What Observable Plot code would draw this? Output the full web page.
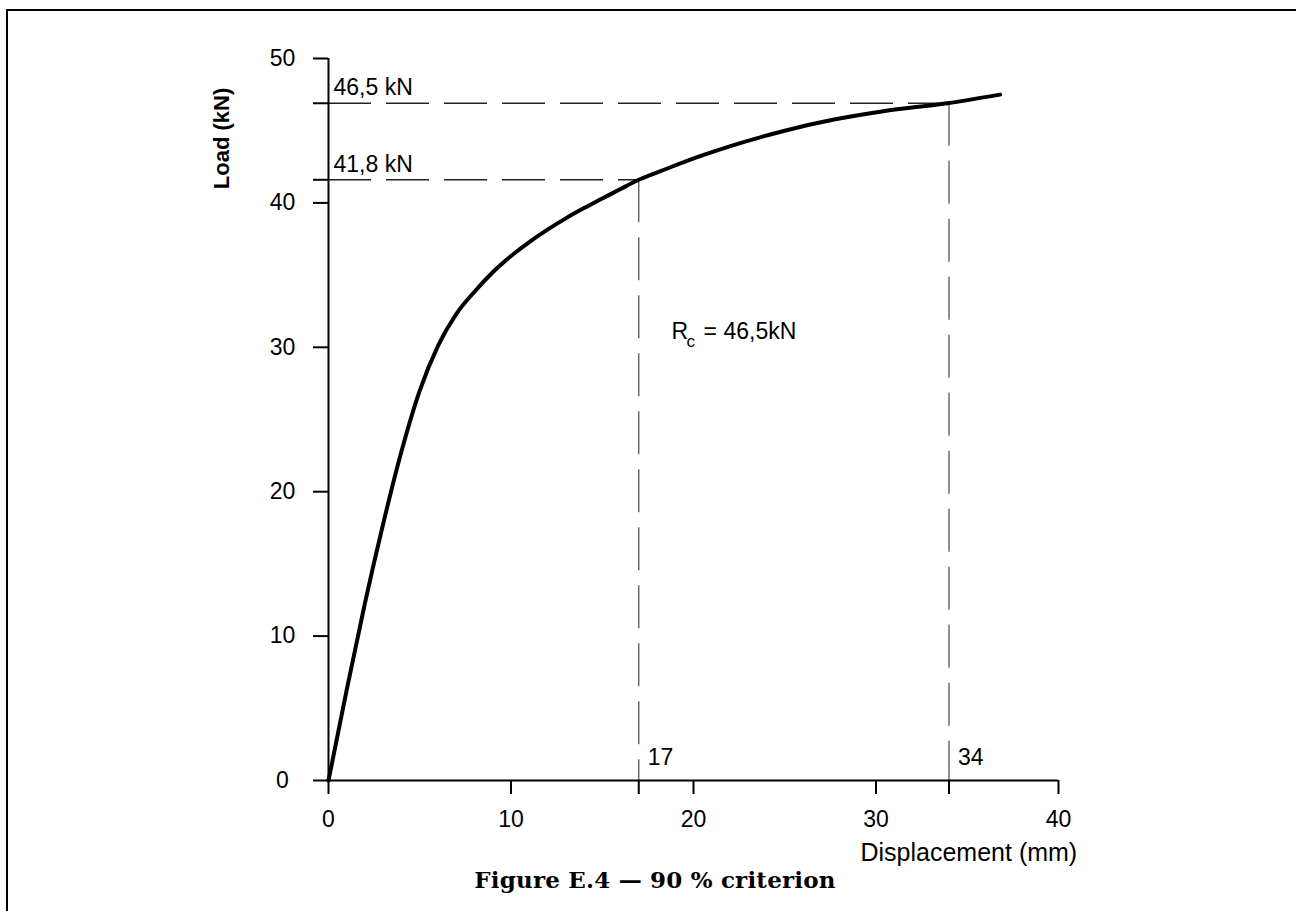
<!DOCTYPE html>
<html>
<head>
<meta charset="utf-8">
<script src="https://cdn.jsdelivr.net/npm/d3@7"></script>
<script src="https://cdn.jsdelivr.net/npm/@observablehq/plot@0.6"></script>
<style>
  html, body { margin: 0; padding: 0; background: #fff; overflow: hidden; }
  #page { position: relative; width: 1296px; height: 911px; }
  #chart { position: absolute; left: 0; top: 0; }
  #frame { position: absolute; left: 6px; top: 9px; width: 1300px; height: 920px;
           border-top: 2.5px solid #000; border-left: 2.5px solid #000; pointer-events: none; }
  #title { position: absolute; top: 866px; left: 655px; transform: translateX(-50%);
           font: bold 23px "DejaVu Serif", serif; letter-spacing: 0.2px; white-space: nowrap; color: #000; }
</style>
</head>
<body>
<div id="page">
  <div id="chart"></div>
  <div id="frame"></div>
  <div id="title">Figure E.4 — 90 % criterion</div>
</div>
<script>
// Load–displacement curve
const displacement = [0, 1, 2, 3, 4, 5, 6, 7, 8, 9, 10, 11, 12, 13, 14, 15, 16, 17, 18.6, 20.4, 22.2, 25.0, 27.7, 30.4, 33.9, 36.8];
const load         = [0, 6.3, 12.3, 17.8, 22.8, 27.0, 30.1, 32.3, 33.85, 35.2, 36.32, 37.29, 38.15, 38.93, 39.64, 40.3, 40.96, 41.6, 42.4, 43.25, 44.0, 45.0, 45.77, 46.35, 46.9, 47.5];

// Axis ticks
const xTicks = [0, 10, 20, 30, 40];
const yTicks = [0, 10, 20, 30, 40, 50];

// Criterion construction points
const markX = [17, 34];
const markY = [41.6, 46.9];
const markXLabels = ["17", "34"];
const markYLabels = ["41,8 kN", "46,5 kN"];

// Annotation
const rcParts = ["R", "c", "= 46,5kN"];
const rcAt = {x: 18.8, y: 30.6};

const xLabel = "Displacement (mm)";
const yLabel = "Load (kN)";

const curve = displacement.map((d, i) => ({x: d, y: load[i]}));
const guides = markX.map((x, i) => ({x, y: markY[i]}));

const font = "'Liberation Sans', Arial, sans-serif";

const chart = Plot.plot({
  width: 1296,
  height: 850,
  marginLeft: 328,
  marginRight: 238,
  marginTop: 58,
  marginBottom: 70,
  x: {domain: [0, 40]},
  y: {domain: [0, 50]},
  style: {fontFamily: font, color: "#000", background: "none", overflow: "visible"},
  marks: [
    // dashed construction lines
    Plot.ruleY(guides, {y: "y", x1: 0, x2: "x", stroke: "#222", strokeWidth: 1.4, strokeDasharray: "43,15"}),
    Plot.ruleX(guides, {x: "x", y1: "y", y2: 0, stroke: "#555", strokeWidth: 1.3, strokeDasharray: "43,15"}),
    // axis lines
    Plot.ruleX([0], {y1: 0, y2: 50, stroke: "#000", strokeWidth: 2}),
    Plot.ruleY([0], {x1: 0, x2: 40, stroke: "#000", strokeWidth: 2}),
    // axes
    Plot.axisX(xTicks, {tickSize: 14, tickPadding: 16, fontSize: 23, strokeWidth: 2, label: null}),
    Plot.axisX(markX, {tickSize: 14, tickFormat: () => "", strokeWidth: 2, label: null}),
    Plot.axisY(yTicks, {tickSize: 15, tickPadding: 31, textAnchor: "middle", fontSize: 23, strokeWidth: 2, label: null}),
    Plot.axisY(markY, {tickSize: 15, tickFormat: () => "", strokeWidth: 2, label: null}),
    // curve
    Plot.line(curve, {x: "x", y: "y", stroke: "#000", strokeWidth: 4, curve: "monotone-x"}),
    // labels on construction lines
    Plot.text(markX, {x: d => d, y: 0, text: (d, i) => markXLabels[i], dx: 9, dy: -16, textAnchor: "start", lineAnchor: "bottom", fontSize: 23}),
    Plot.text(markY, {x: 0, y: d => d, text: (d, i) => markYLabels[i], dx: 5, dy: -8, textAnchor: "start", lineAnchor: "bottom", fontSize: 23}),
    // Rc annotation
    Plot.text([rcAt], {x: "x", y: "y", text: () => rcParts[0], textAnchor: "start", lineAnchor: "bottom", fontSize: 23}),
    Plot.text([rcAt], {x: "x", y: "y", text: () => rcParts[1], dx: 15, dy: 8, textAnchor: "start", lineAnchor: "bottom", fontSize: 17}),
    Plot.text([rcAt], {x: "x", y: "y", text: () => rcParts[2], dx: 32, textAnchor: "start", lineAnchor: "bottom", fontSize: 23}),
    // axis titles
    Plot.text([yLabel], {frameAnchor: "top-left", textAnchor: "middle", lineAnchor: "middle", rotate: -90, dx: -107, dy: 80, fontWeight: "bold", fontSize: 22}),
    Plot.text([xLabel], {frameAnchor: "bottom-right", textAnchor: "start", lineAnchor: "bottom", dx: -198, dy: 80, fontSize: 25})
  ]
});
document.getElementById("chart").appendChild(chart);
</script>
</body>
</html>
